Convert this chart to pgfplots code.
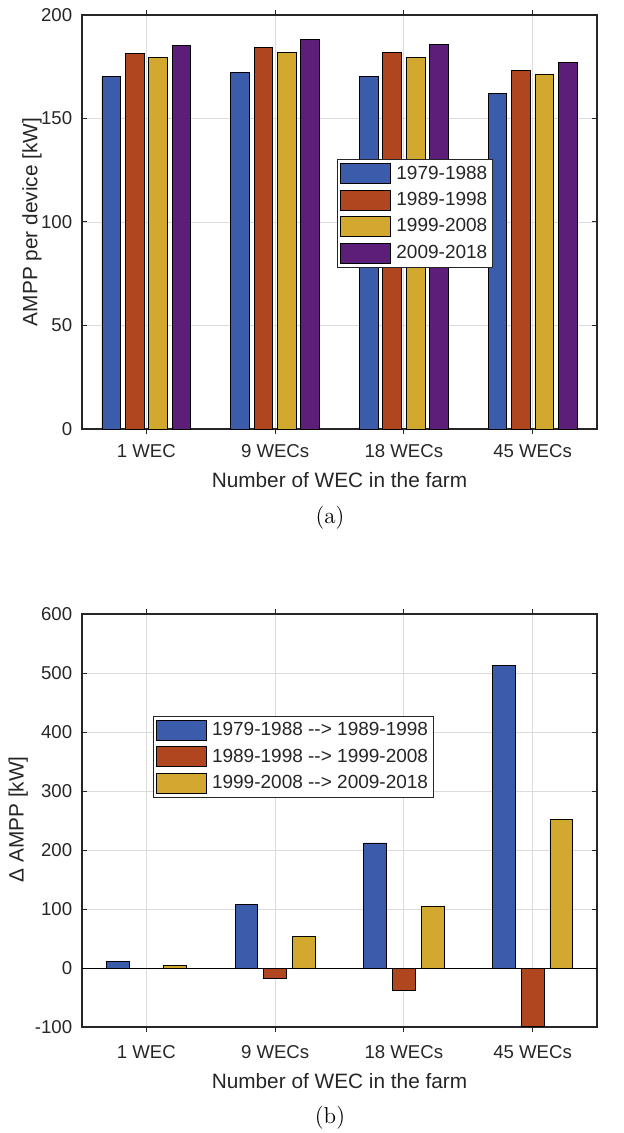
\documentclass[border=0pt]{standalone}
\usepackage{fontspec}
\usepackage{pgfplots}
\pgfplotsset{compat=1.18}
\newfontfamily\arial{Liberation Sans}
\definecolor{cA}{RGB}{58,92,170}
\definecolor{cB}{RGB}{176,70,32}
\definecolor{cC}{RGB}{210,168,46}
\definecolor{cD}{RGB}{92,30,120}
\definecolor{txt}{RGB}{38,38,38}

\pgfplotsset{
  mybar/.style={fill=#1, draw=black, line width=0.4pt,
    legend image code/.code={\draw[fill=#1, draw=black, line width=0.5pt] (0pt,-5pt) rectangle (25pt,5pt);}},
  mystyle/.style={
    scale only axis, width=257.5pt,
    xmin=0.5, xmax=4.5,
    xtick={1,2,3,4}, xticklabels={1 WEC,9 WECs,18 WECs,45 WECs},
    tick align=inside, xtick pos=both, ytick pos=both,
    major tick length=2.5pt,
    grid=major, grid style={color=black!14, line width=0.4pt},
    axis line style={color=txt, line width=0.6pt},
    every tick/.style={color=txt, line width=0.5pt},
    tick label style={font=\arial\fontsize{9.3}{11}\selectfont, text=txt},
    yticklabel style={xshift=-1.4pt},
    label style={font=\arial\fontsize{10.4}{12}\selectfont, text=txt},
    /pgf/number format/assume math mode=true,
    legend cell align=left,
    legend style={font=\arial\fontsize{9.5}{11}\selectfont, text=txt, draw=txt, line width=0.5pt,
      inner xsep=1.5pt, inner ysep=1.5pt, row sep=1.9pt,
      nodes={inner xsep=1pt, inner ysep=1.6pt},
      /tikz/every odd column/.append style={column sep=1.5pt},
      /tikz/every even column/.append style={column sep=0pt}},
  }
}

\pgfplotstableread{
x A B C D
1 170.1 181.6 179.7 185.5
2 172.2 184.3 182.1 188.2
3 170.1 182.1 179.7 185.9
4 162.1 173.4 171.1 176.9
}\topdata

\pgfplotstableread{
x A B C
1 11.8 -1.5 4.6
2 107.6 -18 53.5
3 212 -38 104
4 513 -99 252
}\botdata

\begin{document}
\begin{tikzpicture}
\path[use as bounding box] (0pt,0pt) rectangle (312pt,-566.5pt);

\begin{axis}[mystyle,
  at={(41pt,-214.5pt)}, anchor=south west,
  height=207pt,
  ymin=0, ymax=200, ytick={0,50,100,150,200},
  ybar=2.35pt, bar width=9.35pt,
  xticklabel style={yshift=-1.6pt},
  xlabel={Number of WEC in the farm},
  ylabel={AMPP per device [kW]},
  xlabel style={at={(axis description cs:0.5,-0.123)}, anchor=center},
  ylabel style={at={(axis description cs:-0.097,0.5)}, anchor=center},
  legend style={at={(0.495,0.652)}, anchor=north west},
]
\addplot[mybar=cA] table[x=x,y=A] {\topdata};
\addplot[mybar=cB] table[x=x,y=B] {\topdata};
\addplot[mybar=cC] table[x=x,y=C] {\topdata};
\addplot[mybar=cD] table[x=x,y=D] {\topdata};
\legend{1979-1988,1989-1998,1999-2008,2009-2018}
\end{axis}

\begin{axis}[mystyle,
  at={(41pt,-513.5pt)}, anchor=south west,
  height=206.5pt,
  ymin=-100, ymax=600, ytick={-100,0,...,600},
  extra y ticks={0}, extra y tick labels={},
  extra y tick style={grid style={color=black, line width=0.5pt}, major tick length=0pt},
  ybar=3pt, bar width=11.35pt,
  xticklabel style={yshift=-3pt},
  xlabel={Number of WEC in the farm},
  ylabel={Δ AMPP [kW]},
  xlabel style={at={(axis description cs:0.5,-0.131)}, anchor=center},
  ylabel style={at={(axis description cs:-0.124,0.503)}, anchor=center},
  legend style={at={(0.137,0.754)}, anchor=north west},
]
\addplot[mybar=cA] table[x=x,y=A] {\botdata};
\addplot[mybar=cB] table[x=x,y=B] {\botdata};
\addplot[mybar=cC] table[x=x,y=C] {\botdata};
\legend{1979-1988 --> 1989-1998,1989-1998 --> 1999-2008,1999-2008 --> 2009-2018}
\end{axis}

\node[font=\fontsize{11.5}{13}\selectfont] at (165pt,-259pt) {(a)};
\node[font=\fontsize{11.5}{13}\selectfont] at (165pt,-559pt) {(b)};
\end{tikzpicture}
\end{document}
